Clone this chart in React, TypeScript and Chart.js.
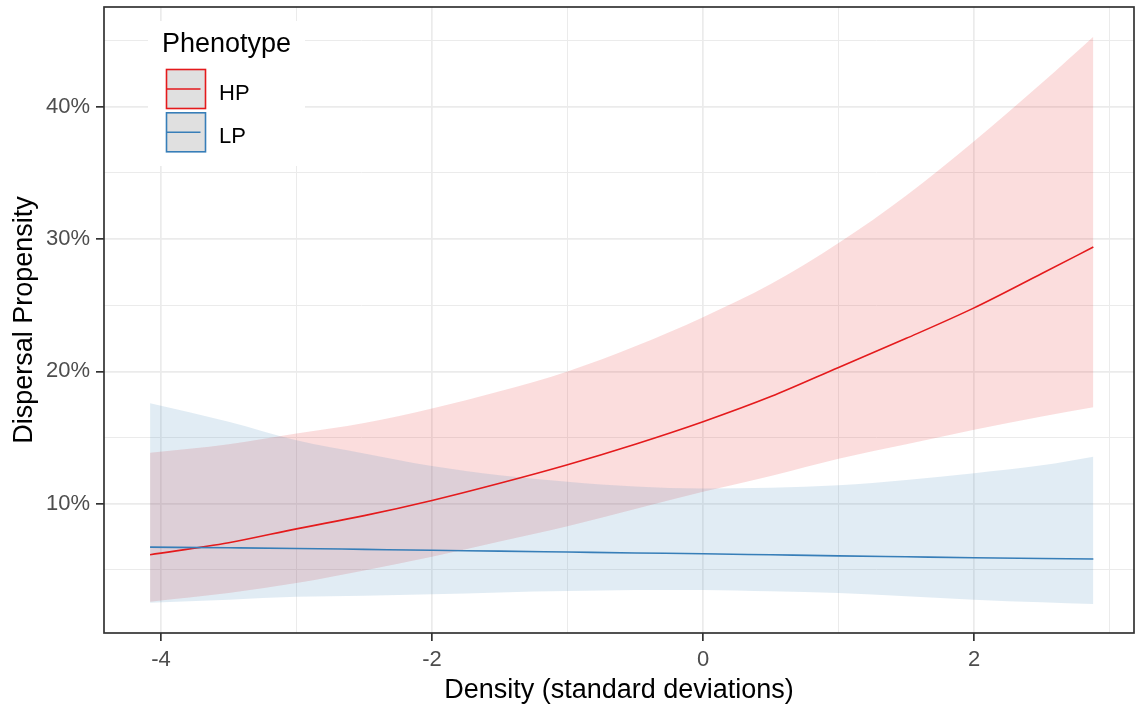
import React, { useEffect, useRef } from "react";
import { Chart, registerables } from "chart.js";

Chart.register(...registerables);

// ---- data ----
const DENSITY = [-4.08, -3.5, -3, -2.5, -2, -1.5, -1, -0.5, 0, 0.5, 1, 1.5, 2, 2.5, 2.88];

const HP_FIT = [6.15, 7.05, 8.1, 9.1, 10.25, 11.55, 12.95, 14.5, 16.2, 18.1, 20.3, 22.5, 24.8, 27.4, 29.4];
const HP_UPPER = [13.85, 14.5, 15.3, 16.1, 17.2, 18.5, 20.0, 21.9, 24.1, 26.6, 29.7, 33.3, 37.4, 41.8, 45.3];
const HP_LOWER = [2.6, 3.25, 4.0, 4.95, 6.0, 7.15, 8.3, 9.6, 10.9, 12.1, 13.4, 14.5, 15.6, 16.6, 17.3];

const LP_FIT = [6.72, 6.67, 6.62, 6.55, 6.48, 6.42, 6.35, 6.28, 6.22, 6.14, 6.06, 5.99, 5.92, 5.86, 5.82];
const LP_UPPER = [17.6, 16.2, 14.8, 13.8, 12.85, 12.15, 11.66, 11.3, 11.15, 11.2, 11.4, 11.8, 12.3, 12.9, 13.55];
const LP_LOWER = [2.52, 2.75, 2.97, 3.05, 3.15, 3.3, 3.4, 3.48, 3.48, 3.38, 3.25, 3.0, 2.75, 2.55, 2.42];

const PHENOTYPES = ["HP", "LP"];
const LEGEND_TITLE = "Phenotype";
const X_TITLE = "Density (standard deviations)";
const Y_TITLE = "Dispersal Propensity";

const X_GRID = [-4, -3, -2, -1, 0, 1, 2, 3];
const X_LABELED = [-4, -2, 0, 2];
const Y_GRID = [5, 10, 15, 20, 25, 30, 35, 40, 45];
const Y_LABELED = [10, 20, 30, 40];

const X_MIN = -4.42;
const X_MAX = 3.18;
const Y_MIN = 0.23;
const Y_MAX = 47.54;

// ---- styles ----
const RED = "#E41A1C";
const BLUE = "#377EB8";
const RED_FILL = "rgba(228,26,28,0.15)";
const BLUE_FILL = "rgba(55,126,184,0.15)";
const FONT = "'Liberation Sans', Arial, sans-serif";
const GRID = "#EBEBEB";
const DARK = "#333333";

const pts = (ys: number[]) => DENSITY.map((x, i) => ({ x, y: ys[i] }));

const frameAndLegend = {
  id: "frameAndLegend",
  afterDraw(chart: any) {
    const { ctx, chartArea } = chart;
    const { left, top, right, bottom } = chartArea;
    ctx.save();
    // panel border
    ctx.strokeStyle = DARK;
    ctx.lineWidth = 1.7;
    ctx.strokeRect(left, top, right - left, bottom - top);

    // legend
    const lx = left + 44;
    const ly = top + 14;
    ctx.fillStyle = "#FFFFFF";
    ctx.fillRect(lx, ly, 157, 145);

    ctx.fillStyle = "#000000";
    ctx.font = `27px ${FONT}`;
    ctx.textBaseline = "alphabetic";
    ctx.textAlign = "left";
    ctx.fillText(LEGEND_TITLE, lx + 14, top + 45);

    const colors = [RED, BLUE];
    PHENOTYPES.forEach((name, i) => {
      const bx = lx + 18.5;
      const by = top + 62.5 + i * 43.3;
      ctx.fillStyle = "#E0E0E0";
      ctx.fillRect(bx, by, 39, 39);
      ctx.strokeStyle = colors[i];
      ctx.lineWidth = 1.6;
      ctx.strokeRect(bx, by, 39, 39);
      ctx.beginPath();
      ctx.moveTo(bx, by + 19.5);
      ctx.lineTo(bx + 34, by + 19.5);
      ctx.lineWidth = 1.6;
      ctx.stroke();
      ctx.fillStyle = "#000000";
      ctx.font = `22px ${FONT}`;
      ctx.fillText(name, lx + 71, by + 30);
    });
    ctx.restore();
  },
};

export default function App() {
  const ref = useRef<HTMLCanvasElement | null>(null);

  useEffect(() => {
    document.body.style.margin = "0";
    const canvas = ref.current;
    if (!canvas) return;

    const chart = new Chart(canvas, {
      type: "line",
      data: {
        datasets: [
          {
            label: PHENOTYPES[0] + " lower",
            data: pts(HP_LOWER),
            borderWidth: 0,
            pointRadius: 0,
            fill: false,
            order: 4,
          },
          {
            label: PHENOTYPES[0] + " upper",
            data: pts(HP_UPPER),
            borderWidth: 0,
            pointRadius: 0,
            backgroundColor: RED_FILL,
            fill: { target: 0 },
            order: 4,
          },
          {
            label: PHENOTYPES[1] + " lower",
            data: pts(LP_LOWER),
            borderWidth: 0,
            pointRadius: 0,
            fill: false,
            order: 3,
          },
          {
            label: PHENOTYPES[1] + " upper",
            data: pts(LP_UPPER),
            borderWidth: 0,
            pointRadius: 0,
            backgroundColor: BLUE_FILL,
            fill: { target: 2 },
            order: 3,
          },
          {
            label: PHENOTYPES[0],
            data: pts(HP_FIT),
            borderColor: RED,
            borderWidth: 1.6,
            pointRadius: 0,
            fill: false,
            order: 2,
          },
          {
            label: PHENOTYPES[1],
            data: pts(LP_FIT),
            borderColor: BLUE,
            borderWidth: 1.6,
            pointRadius: 0,
            fill: false,
            order: 1,
          },
        ],
      },
      options: {
        responsive: false,
        animation: false,
        devicePixelRatio: 1,
        layout: { padding: { top: 7, right: 4, left: 0, bottom: 0 } },
        plugins: {
          legend: { display: false },
          tooltip: { enabled: false },
        },
        elements: { line: { cubicInterpolationMode: "monotone" } },
        scales: {
          x: {
            type: "linear",
            min: X_MIN,
            max: X_MAX,
            afterBuildTicks: (scale: any) => {
              scale.ticks = X_GRID.map((v) => ({ value: v }));
            },
            afterFit: (scale: any) => {
              scale.height = 75;
              scale.paddingLeft = 0;
              scale.paddingRight = 0;
            },
            border: { display: false },
            grid: {
              color: GRID,
              lineWidth: (c: any) => (X_LABELED.includes(c.tick?.value) ? 1.7 : 1.0),
              tickLength: 8,
              tickColor: (c: any) => (X_LABELED.includes(c.tick?.value) ? DARK : "rgba(0,0,0,0)"),
              tickWidth: 1.7,
            },
            ticks: {
              autoSkip: false,
              maxRotation: 0,
              padding: 6,
              color: "#4D4D4D",
              font: { family: FONT, size: 22 },
              callback: (v: any) => (X_LABELED.includes(Number(v)) ? String(v) : ""),
            },
            title: {
              display: true,
              text: X_TITLE,
              color: "#000000",
              font: { family: FONT, size: 27 },
              padding: { top: 0, bottom: 1 },
            },
          },
          y: {
            type: "linear",
            min: Y_MIN,
            max: Y_MAX,
            afterBuildTicks: (scale: any) => {
              scale.ticks = Y_GRID.map((v) => ({ value: v }));
            },
            afterFit: (scale: any) => {
              scale.width = 104;
              scale.paddingTop = 0;
              scale.paddingBottom = 0;
            },
            border: { display: false },
            grid: {
              color: GRID,
              lineWidth: (c: any) => (Y_LABELED.includes(c.tick?.value) ? 1.7 : 1.0),
              tickLength: 8,
              tickColor: (c: any) => (Y_LABELED.includes(c.tick?.value) ? DARK : "rgba(0,0,0,0)"),
              tickWidth: 1.7,
            },
            ticks: {
              autoSkip: false,
              padding: 6,
              color: "#4D4D4D",
              font: { family: FONT, size: 22 },
              callback: (v: any) => (Y_LABELED.includes(Number(v)) ? `${v}%` : ""),
            },
            title: {
              display: true,
              text: Y_TITLE,
              color: "#000000",
              font: { family: FONT, size: 27 },
              padding: { top: 8, bottom: 0 },
            },
          },
        },
      },
      plugins: [frameAndLegend],
    });

    return () => chart.destroy();
  }, []);

  return (
    <div style={{ width: 1138, height: 708 }}>
      <canvas ref={ref} width={1138} height={708} style={{ display: "block", width: 1138, height: 708 }} />
    </div>
  );
}
